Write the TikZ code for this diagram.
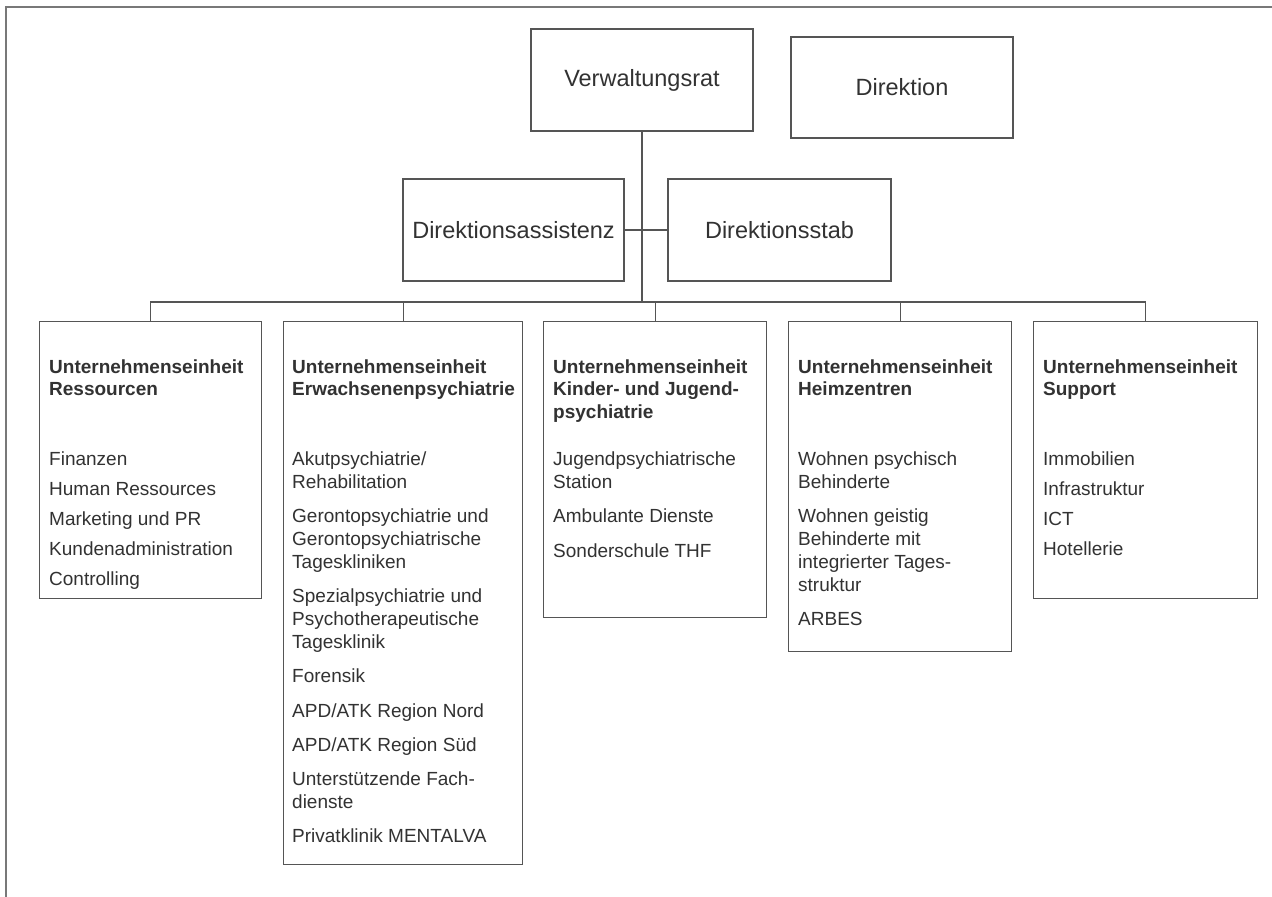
\documentclass[tikz,border=0pt]{standalone}
\usepackage{fontspec}
\setmainfont{Liberation Sans}
\definecolor{linec}{RGB}{85,85,85}
\definecolor{framec}{RGB}{120,120,120}
\definecolor{txt}{RGB}{50,50,50}
\newcommand{\itemsize}{\fontsize{19}{22.8}\selectfont}
\tikzset{
  box/.style={draw=linec, line width=1.2pt, inner sep=0pt, fill=white},
  topbox/.style={box, text=txt, font=\fontsize{23.5}{28}\selectfont},
  cont/.style={anchor=base west, inner sep=0pt, text=txt},
  conn/.style={draw=linec, line width=1.2pt},
  framel/.style={draw=framec, line width=1.4pt}
}
\begin{document}
\begin{tikzpicture}[x=1pt,y=-1pt]
\useasboundingbox (0,0) rectangle (1272,897);
\draw[framel] (6,897) -- (6,7) -- (1272,7);

% top boxes
\node[topbox, minimum width=222pt, minimum height=102pt] (vr) at (642,80) {Verwaltungsrat};
\node[topbox, minimum width=222pt, minimum height=101pt] (dir) at (902,87.5) {Direktion};
\node[topbox, minimum width=221pt, minimum height=102pt] (da) at (513.5,230) {Direktionsassistenz};
\node[topbox, minimum width=223pt, minimum height=102pt] (ds) at (779.5,230) {Direktionsstab};

% unit boxes
\node[box, anchor=north west, minimum width=222pt, minimum height=277pt] (b1) at (39,321) {};
\node[box, anchor=north west, minimum width=239pt, minimum height=543pt] (b2) at (283,321) {};
\node[box, anchor=north west, minimum width=223pt, minimum height=296pt] (b3) at (543,321) {};
\node[box, anchor=north west, minimum width=223pt, minimum height=330pt] (b4) at (788,321) {};
\node[box, anchor=north west, minimum width=224pt, minimum height=277pt] (b5) at (1033,321) {};

% connectors
\coordinate (bus) at (642,302);
\draw[conn] (vr.south) -- (bus);
\draw[conn] (da.east) -- (ds.west);
\draw[conn] (b1.north) |- (bus) -| (b5.north);
\foreach \b in {b2,b3,b4} \draw[conn] (\b.north) -- (\b.north |- bus);

% contents
\node[cont] (c1) at (49,373) {\begin{minipage}[t]{240pt}\raggedright\itemsize
\textbf{Unternehmenseinheit}\\
\textbf{Ressourcen}\\[47.2pt]
Finanzen\\[7.2pt]
Human Ressources\\[7.2pt]
Marketing und PR\\[7.2pt]
Kundenadministration\\[7.2pt]
Controlling
\end{minipage}};

\node[cont] (c2) at (292,373) {\begin{minipage}[t]{240pt}\raggedright\itemsize
\textbf{Unternehmenseinheit}\\
\textbf{Erwachsenenpsychiatrie}\\[47.2pt]
Akutpsychiatrie/\\
Rehabilitation\\[11.5pt]
Gerontopsychiatrie und\\
Gerontopsychiatrische\\
Tageskliniken\\[11.5pt]
Spezialpsychiatrie und\\
Psychotherapeutische\\
Tagesklinik\\[11.5pt]
Forensik\\[11.5pt]
APD/ATK Region Nord\\[11.5pt]
APD/ATK Region Süd\\[11.5pt]
Unterstützende Fach-\\
dienste\\[11.5pt]
Privatklinik MENTALVA
\end{minipage}};

\node[cont] (c3) at (553,373) {\begin{minipage}[t]{240pt}\raggedright\itemsize
\textbf{Unternehmenseinheit}\\
\textbf{Kinder- und Jugend-}\\
\textbf{psychiatrie}\\[24.2pt]
Jugendpsychiatrische\\
Station\\[11.5pt]
Ambulante Dienste\\[11.5pt]
Sonderschule THF
\end{minipage}};

\node[cont] (c4) at (798,373) {\begin{minipage}[t]{240pt}\raggedright\itemsize
\textbf{Unternehmenseinheit}\\
\textbf{Heimzentren}\\[47.2pt]
Wohnen psychisch\\
Behinderte\\[11.5pt]
Wohnen geistig\\
Behinderte mit\\
integrierter Tages-\\
struktur\\[11.5pt]
ARBES
\end{minipage}};

\node[cont] (c5) at (1043,373) {\begin{minipage}[t]{240pt}\raggedright\itemsize
\textbf{Unternehmenseinheit}\\
\textbf{Support}\\[47.2pt]
Immobilien\\[7.2pt]
Infrastruktur\\[7.2pt]
ICT\\[7.2pt]
Hotellerie
\end{minipage}};
\end{tikzpicture}
\end{document}
